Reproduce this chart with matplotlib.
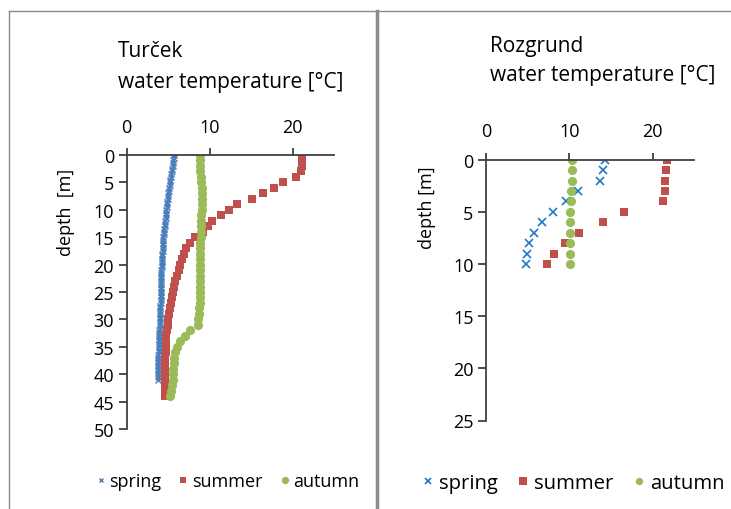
import matplotlib
matplotlib.use("Agg")
import matplotlib.pyplot as plt
import numpy as np
from matplotlib.lines import Line2D

plt.rcParams['font.family'] = ['Open Sans', 'DejaVu Sans']
FS = 13

BLUE_T = '#4a7ebb'
BLUE_R = '#1f77c8'
RED = '#c0504d'
GREEN = '#9bbb59'
AXIS = '#404040'
FRAME = '#8c8c8c'

# --- Turček profiles ---
turcek_spring_depth = np.arange(0, 41.5, 0.5)
turcek_spring_temp = [
    5.75, 5.7, 5.65, 5.6, 5.55, 5.5, 5.45, 5.4, 5.35, 5.3,
    5.25, 5.2, 5.15, 5.1, 5.05, 5.0, 4.95, 4.9, 4.9, 4.85,
    4.8, 4.75, 4.7, 4.7, 4.65, 4.6, 4.6, 4.55, 4.5, 4.5,
    4.45, 4.45, 4.4, 4.4, 4.35, 4.35, 4.3, 4.3, 4.3, 4.25,
    4.25, 4.25, 4.2, 4.2, 4.2, 4.2, 4.15, 4.15, 4.15, 4.15,
    4.1, 4.1, 4.1, 4.1, 4.1, 4.05, 4.05, 4.05, 4.05, 4.0,
    4.0, 4.0, 4.0, 4.0, 3.95, 3.95, 3.95, 3.95, 3.9, 3.9,
    3.9, 3.9, 3.9, 3.85, 3.85, 3.85, 3.85, 3.85, 3.8, 3.8,
    3.8, 3.8, 3.8,
]
turcek_summer_depth = np.arange(0, 45, 1)
turcek_summer_temp = [
    21.1, 21.2, 21.2, 21.0, 20.4, 18.8, 17.8, 16.5, 15.1, 13.3,
    12.3, 11.4, 10.3, 9.8, 9.2, 8.3, 7.6, 7.2, 6.95, 6.7,
    6.5, 6.3, 6.1, 5.9, 5.75, 5.6, 5.5, 5.35, 5.25, 5.15,
    5.05, 4.95, 4.9, 4.8, 4.75, 4.7, 4.7, 4.65, 4.65, 4.6,
    4.6, 4.6, 4.6, 4.6, 4.6,
]
turcek_autumn_depth = np.arange(0, 45, 1)
turcek_autumn_temp = [
    8.85, 8.8, 8.85, 8.9, 8.95, 9.0, 9.05, 9.05, 9.05, 9.05,
    9.05, 9.0, 9.0, 9.0, 8.95, 8.95, 8.9, 8.9, 8.9, 8.9,
    8.85, 8.85, 8.85, 8.8, 8.8, 8.8, 8.8, 8.8, 8.75, 8.7,
    8.65, 8.6, 7.6, 7.1, 6.5, 6.1, 5.85, 5.75, 5.7, 5.65,
    5.6, 5.55, 5.5, 5.4, 5.3,
]

# --- Rozgrund profiles ---
rozgrund_depth = np.arange(0, 11, 1)
rozgrund_spring_temp = [14.3, 14.0, 13.7, 11.1, 9.6, 8.0, 6.7, 5.8, 5.2, 4.9, 4.85]
rozgrund_summer_temp = [21.7, 21.6, 21.5, 21.5, 21.2, 16.6, 14.1, 11.2, 9.5, 8.2, 7.3]
rozgrund_autumn_temp = [10.35, 10.35, 10.3, 10.2, 10.15, 10.1, 10.1, 10.1, 10.1, 10.1, 10.1]

W, H = 731, 510
fig = plt.figure(figsize=(W / 100, H / 100), dpi=100)


def px_box(x0, y0, x1, y1):
    return [x0 / W, 1 - y1 / H, (x1 - x0) / W, (y1 - y0) / H]


def style_axis(ax, ymax, ystep, ylabel):
    ax.set_xlim(0, 25)
    ax.set_ylim(ymax, 0)
    ax.set_xticks([0, 10, 20])
    ax.set_yticks(np.arange(0, ymax + 1, ystep))
    ax.xaxis.tick_top()
    for side in ('right', 'bottom'):
        ax.spines[side].set_visible(False)
    for side in ('left', 'top'):
        ax.spines[side].set_color(AXIS)
        ax.spines[side].set_linewidth(1.3)
    ax.tick_params(axis='x', direction='out', length=5, width=1.3, color=AXIS,
                   pad=9, labelsize=FS)
    ax.tick_params(axis='y', direction='out', length=6, width=1.3, color=AXIS,
                   pad=3, labelsize=FS)
    ax.set_ylabel(ylabel, fontsize=FS)
    ax.patch.set_alpha(0)


ax1 = fig.add_axes(px_box(126.5, 156, 334, 430))
ax1.plot(turcek_spring_temp, turcek_spring_depth, ls='none', marker='x',
         ms=4.3, mew=1.0, color=BLUE_T, label='spring')
ax1.plot(turcek_summer_temp, turcek_summer_depth, ls='none', marker='s',
         ms=5.8, mew=0, color=RED, label='summer')
ax1.plot(turcek_autumn_temp, turcek_autumn_depth, ls='none', marker='o',
         ms=6.6, mew=0, color=GREEN, label='autumn')
style_axis(ax1, 50, 5, 'depth  [m]')
ax1.yaxis.set_label_coords(-0.25, 0.795)
ax1.legend(loc='center', bbox_to_anchor=(0.48, -0.19), ncol=3, frameon=False,
           handletextpad=0.05, columnspacing=0.75, markerscale=0.8, fontsize=FS,
           handlelength=0.9)

ax2 = fig.add_axes(px_box(486, 160.7, 694.3, 421.5))
ax2.plot(rozgrund_spring_temp, rozgrund_depth, ls='none', marker='x',
         ms=5.2, mew=1.2, color=BLUE_R, label='spring')
ax2.plot(rozgrund_summer_temp, rozgrund_depth, ls='none', marker='s',
         ms=6.4, mew=0, color=RED, label='summer')
ax2.plot(rozgrund_autumn_temp, rozgrund_depth, ls='none', marker='o',
         ms=6.6, mew=0, color=GREEN, label='autumn')
style_axis(ax2, 25, 5, 'depth [m]')
ax2.yaxis.set_label_coords(-0.242, 0.82)
ax2.legend(loc='center', bbox_to_anchor=(0.41, -0.24), ncol=3, frameon=False,
           handletextpad=0.1, columnspacing=0.8, markerscale=0.8, fontsize=14.6,
           handlelength=0.9)

fig.text(118 / W, 1 - 67 / H, 'Turček\nwater temperature [°C]', ha='left',
         va='center', fontsize=15, linespacing=1.6)
fig.text(490 / W, 1 - 61 / H, 'Rozgrund\nwater temperature [°C]', ha='left',
         va='center', fontsize=15, linespacing=1.45)

# panel frames
fig.add_artist(Line2D([9 / W, 376 / W], [1 - 12 / H, 1 - 12 / H], color=FRAME, lw=1.0))
fig.add_artist(Line2D([378 / W, 1], [1 - 12 / H, 1 - 12 / H], color=FRAME, lw=1.0))
fig.add_artist(Line2D([9 / W, 9 / W], [0, 1 - 12 / H], color=FRAME, lw=1.0))
fig.add_artist(Line2D([376.5 / W, 376.5 / W], [0, 1 - 12 / H], color=FRAME, lw=2.5))

fig.savefig('out.png', dpi=100)
